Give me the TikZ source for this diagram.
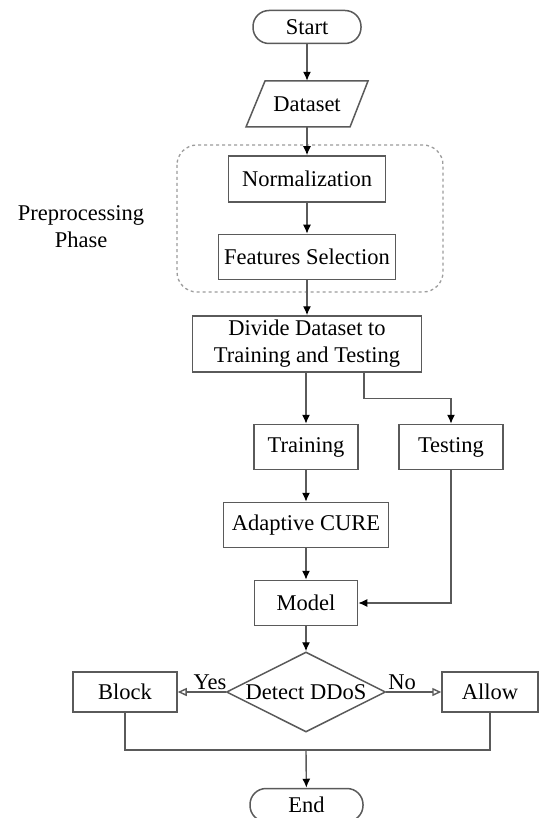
\documentclass[tikz,border=0pt]{standalone}
\usepackage{fontspec}
\setmainfont{Liberation Serif}
\usetikzlibrary{shapes.geometric,arrows.meta}
\definecolor{lc}{HTML}{5A5A5A}
\begin{document}
\begin{tikzpicture}[x=1pt,y=-1pt,
  txt/.style={font=\fontsize{22.5}{27}\selectfont, align=center, inner sep=0pt},
  box/.style={txt, draw=lc, line width=1.5pt},
  term/.style={box, rounded corners=16pt},
  con/.style={draw=lc, line width=1.4pt, -{Latex[length=9pt,width=8pt,color=black]}},
  opencon/.style={draw=lc, line width=1.4pt, -{Triangle[open,length=9pt,width=8pt]}},
  plain/.style={draw=lc, line width=1.4pt},
  lbl/.style={txt, anchor=base}]
\useasboundingbox (0,0) rectangle (540,818);
\fill[white] (0,0) rectangle (540,818);
% nodes
\node[term, minimum width=108, minimum height=33] (start) at (307,27) {Start};
\node[txt, minimum width=104, minimum height=46] (data) at (307,104) {Dataset};
\draw[lc, line width=1.5pt] (265,81) -- (368,81) -- (350,127) -- (246,127) -- cycle;
\draw[lc!60, line width=1.3pt, dash pattern=on 3pt off 3pt, rounded corners=20pt] (177,145) rectangle (443,292);
\node[box, minimum width=157, minimum height=46] (norm) at (307,179) {Normalization};
\node[box, minimum width=177, minimum height=45] (feat) at (307,257) {Features Selection};
\node[txt] (phase) at (81,227) {Preprocessing\\Phase};
\node[box, minimum width=229, minimum height=56] (divide) at (307,344) {Divide Dataset to\\Training and Testing};
\node[box, minimum width=104, minimum height=45] (train) at (306,447) {Training};
\node[box, minimum width=104, minimum height=45] (test) at (451,447) {Testing};
\node[box, minimum width=165, minimum height=45] (cure) at (306,525) {Adaptive CURE};
\node[box, minimum width=103, minimum height=45] (model) at (306,603) {Model};
\node[box, diamond, minimum width=159, minimum height=80] (dd) at (306,692) {\makebox[0pt]{Detect DDoS}};
\node[box, minimum width=104, minimum height=40] (block) at (125,692) {Block};
\node[box, minimum width=96, minimum height=40] (allow) at (490,692) {Allow};
\node[term, minimum width=113, minimum height=33] (end) at (306.5,805) {End};
\coordinate (join) at (306,750);
% connectors
\draw[con] (start) -- (data);
\draw[con] (data) -- (norm);
\draw[con] (norm) -- (feat);
\draw[con] (feat) -- (divide);
\draw[con] (train |- divide.south) -- (train);
\draw[con] ([xshift=57pt]divide.south) -- ++(0,26) -| (test.north);
\draw[con] (train) -- (cure);
\draw[con] (cure) -- (model);
\draw[con] (test.south) |- (model.east);
\draw[con] (model) -- (dd);
\draw[opencon] (dd.west) -- (block.east) node[lbl, pos=0.33, yshift=3pt] {Yes};
\draw[opencon] (dd.east) -- (allow.west) node[lbl, pos=0.29, yshift=3pt] {No};
\draw[plain] (block.south) |- (join) -| (allow.south);
\draw[con] (join) -- (end);
\end{tikzpicture}
\end{document}
